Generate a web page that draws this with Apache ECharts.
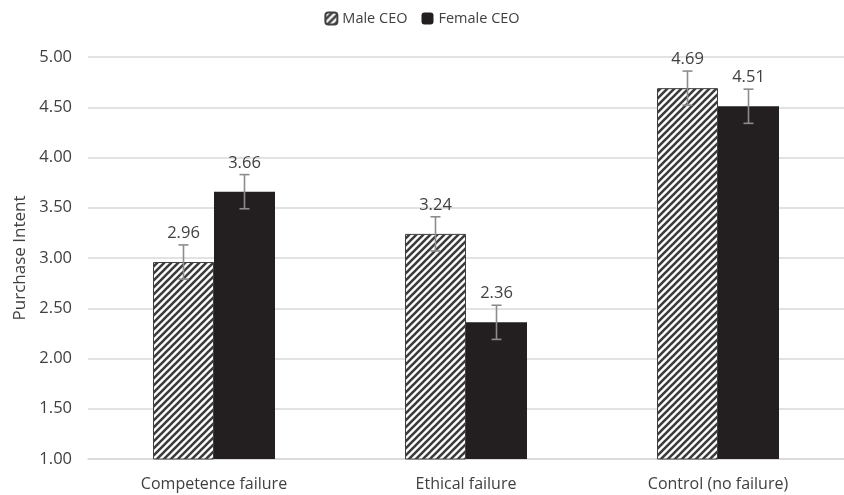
<!DOCTYPE html>
<html>
<head>
<meta charset="utf-8">
<script src="https://cdn.jsdelivr.net/npm/echarts@6/dist/echarts.min.js"></script>
<style>html,body{margin:0;padding:0;background:#fff}#c{width:844px;height:495px}</style>
</head>
<body>
<div id="c"></div>
<script>
const categories = ['Competence failure', 'Ethical failure', 'Control (no failure)'];
const maleValues = [2.96, 3.24, 4.69];
const femaleValues = [3.66, 2.36, 4.51];
const maleErrors = [0.17, 0.17, 0.17];
const femaleErrors = [0.17, 0.17, 0.17];
const seriesNames = ['Male CEO', 'Female CEO'];

function makeHatch() {
  const s = 7;
  const cv = document.createElement('canvas');
  cv.width = s; cv.height = s;
  const ctx = cv.getContext('2d');
  ctx.fillStyle = '#ffffff';
  ctx.fillRect(0, 0, s, s);
  ctx.strokeStyle = '#3c3c3c';
  ctx.lineWidth = 2.6;
  ctx.beginPath();
  ctx.moveTo(-1, s + 1); ctx.lineTo(s + 1, -1);
  ctx.moveTo(-1, 1); ctx.lineTo(1, -1);
  ctx.moveTo(s - 1, s + 1); ctx.lineTo(s + 1, s - 1);
  ctx.stroke();
  return cv;
}

const FONT = '"Open Sans", Lato, sans-serif';
const BAR_W = 61;

function errorSeries(values, errors, offset, name) {
  return {
    type: 'custom',
    name: name + ' err',
    z: 10,
    data: values.map((v, i) => [i, v, errors[i]]),
    renderItem: function (params, api) {
      const i = api.value(0), v = api.value(1), e = api.value(2);
      const top = api.coord([i, v + e]);
      const bot = api.coord([i, v - e]);
      const x = top[0] + offset;
      const cap = 5;
      const st = { stroke: '#8c8c8c', lineWidth: 1.6 };
      return {
        type: 'group',
        children: [
          { type: 'line', shape: { x1: x, y1: top[1], x2: x, y2: bot[1] }, style: st },
          { type: 'line', shape: { x1: x - cap, y1: top[1], x2: x + cap, y2: top[1] }, style: st },
          { type: 'line', shape: { x1: x - cap, y1: bot[1], x2: x + cap, y2: bot[1] }, style: st },
          { type: 'text', x: x, y: top[1] - 3, style: { text: v.toFixed(2), fill: '#404040', font: '16.5px ' + FONT, align: 'center', verticalAlign: 'bottom' } }
        ]
      };
    }
  };
}

const chart = echarts.init(document.getElementById('c'));
chart.setOption({
  animation: false,
  legend: {
    data: seriesNames,
    top: 6,
    left: 'center',
    itemWidth: 12,
    itemHeight: 12,
    itemGap: 14,
    textStyle: { fontFamily: FONT, fontSize: 14.5, color: '#404040' }
  },
  grid: { left: 88, top: 57, width: 762, height: 402 },
  xAxis: {
    type: 'category',
    data: categories,
    axisLine: { lineStyle: { color: '#d9d9d9', width: 1.5 } },
    axisTick: { show: false },
    axisLabel: { fontFamily: FONT, fontSize: 16, color: '#404040', margin: 17 }
  },
  yAxis: {
    type: 'value',
    min: 1, max: 5, interval: 0.5,
    name: 'Purchase Intent',
    nameLocation: 'middle',
    nameGap: 58,
    nameTextStyle: { fontFamily: FONT, fontSize: 17, color: '#404040' },
    axisLine: { show: false },
    axisTick: { show: false },
    splitLine: { lineStyle: { color: '#d9d9d9', width: 1.5 } },
    axisLabel: { fontFamily: FONT, fontSize: 16.5, color: '#404040', margin: 16, formatter: v => v.toFixed(2) }
  },
  series: [
    {
      type: 'bar', name: seriesNames[0], data: maleValues, barWidth: BAR_W, barGap: '0%',
      itemStyle: { color: { image: makeHatch(), repeat: 'repeat' }, borderColor: '#404040', borderWidth: 1 }
    },
    {
      type: 'bar', name: seriesNames[1], data: femaleValues, barWidth: BAR_W, barGap: '0%',
      itemStyle: { color: '#231f20' }
    },
    errorSeries(maleValues, maleErrors, -BAR_W / 2, seriesNames[0]),
    errorSeries(femaleValues, femaleErrors, BAR_W / 2, seriesNames[1])
  ]
});
</script>
</body>
</html>
